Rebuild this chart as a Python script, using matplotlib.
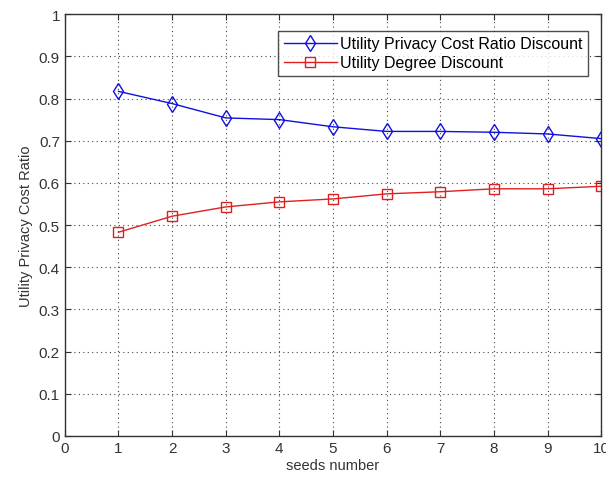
import matplotlib
matplotlib.use("Agg")
import matplotlib.pyplot as plt

seeds = [1, 2, 3, 4, 5, 6, 7, 8, 9, 10]
ratio_discount = [0.817, 0.788, 0.754, 0.750, 0.733, 0.722, 0.722, 0.720, 0.716, 0.705]
degree_discount = [0.483, 0.521, 0.543, 0.555, 0.562, 0.574, 0.579, 0.586, 0.586, 0.592]
xticks = list(range(0, 11))
yticks = [0, 0.1, 0.2, 0.3, 0.4, 0.5, 0.6, 0.7, 0.8, 0.9, 1]
ytick_labels = ["0", "0.1", "0.2", "0.3", "0.4", "0.5", "0.6", "0.7", "0.8", "0.9", "1"]

plt.rcParams['font.family'] = ['Liberation Sans', 'DejaVu Sans']

fig = plt.figure(figsize=(6.06, 4.81), dpi=100)
ax = fig.add_axes([0.107, 0.0915, 0.885, 0.877])

ax.plot(seeds, ratio_discount, color='#1010e0', lw=1.0, marker='d', markersize=8,
        markerfacecolor='none', markeredgecolor='#1010e0', markeredgewidth=1.0,
        label='Utility Privacy Cost Ratio Discount')
ax.plot(seeds, degree_discount, color='#e02020', lw=1.0, marker='s', markersize=7,
        markerfacecolor='none', markeredgecolor='#e02020', markeredgewidth=1.0,
        label='Utility Degree Discount')

ax.set_xlim(0, 10)
ax.set_ylim(0, 1)
ax.set_xticks(xticks)
ax.set_yticks(yticks)
ax.set_yticklabels(ytick_labels)
ax.tick_params(direction='in', length=4, labelsize=11, colors='#333333', top=True, right=True)
ax.grid(True, linestyle=(0, (1, 3)), color='#444444', linewidth=0.8)
for s in ax.spines.values():
    s.set_color('#333333')
    s.set_linewidth(1.0)

ax.set_xlabel('seeds number', fontsize=10.5, color='#333333', labelpad=2)
ax.set_ylabel('Utility Privacy Cost Ratio', fontsize=10.5, color='#333333', labelpad=4)

leg = ax.legend(loc='upper right', fontsize=11.5, frameon=True, fancybox=False,
                edgecolor='#222222', handlelength=3.3, handletextpad=0.2,
                borderpad=0.35, labelspacing=0.25,
                bbox_to_anchor=(0.99, 0.98))
leg.get_frame().set_linewidth(1.0)

fig.savefig('out.png', dpi=100)
